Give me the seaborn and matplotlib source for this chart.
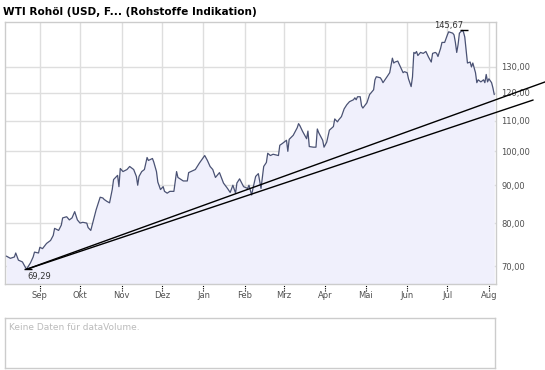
import numpy as np
import pandas as pd
import matplotlib
matplotlib.use("Agg")
import matplotlib.pyplot as plt
import seaborn as sns
from matplotlib.ticker import FixedLocator, FuncFormatter, NullLocator

# days since 2007-08-06 and closing price (USD)
start_date = "2007-08-06"
days = [1, 4, 7, 8, 10, 13, 15, 16, 19, 21, 22, 25, 26, 28, 31, 34, 36, 37, 40, 42,
        43, 46, 48, 50, 52, 54, 56, 58, 61, 62, 64, 66, 68, 71, 73, 74, 76, 78, 80, 81,
        84, 85, 86, 88, 91, 93, 96, 98, 99, 100, 102, 104, 106, 107, 110, 111, 113, 114, 116, 118,
        119, 121, 123, 126, 128, 129, 133, 136, 137, 142, 145, 149, 151, 153, 155, 157, 160, 163, 166, 168,
        170, 172, 173, 175, 178, 181, 182, 184, 185, 187, 189, 191, 193, 195, 196, 198, 200, 204, 205, 207,
        210, 211, 212, 215, 218, 219, 220, 222, 225, 226, 227, 230, 232, 233, 234, 237, 238, 240, 242, 245,
        246, 248, 249, 251, 253, 255, 257, 260, 261, 262, 263, 265, 266, 267, 270, 272, 275, 276, 277, 280,
        281, 282, 284, 285, 287, 289, 290, 291, 293, 295, 297, 298, 300, 301, 303, 304, 305, 306, 307, 308,
        310, 312, 314, 316, 318, 319, 321, 322, 323, 325, 326, 328, 330, 331, 334, 335, 336, 337, 338, 339,
        341, 342, 343, 344, 345, 347, 348, 349, 351, 352, 353, 355, 357, 358, 359, 360, 361, 363, 364, 365]
prices = [72.2, 71.7, 72.0, 72.9, 71.3, 70.9, 69.8, 69.29, 70.7, 72.0, 73.1, 72.9, 74.2, 73.9, 75.1, 75.8, 77.0, 78.7, 78.2, 79.5,
          81.3, 81.6, 80.8, 81.3, 82.9, 80.8, 80.0, 80.2, 80.0, 78.9, 78.2, 80.8, 83.4, 86.7, 86.5, 86.1, 85.6, 85.2, 88.8, 91.6,
          92.8, 89.6, 94.8, 93.9, 94.5, 95.4, 94.5, 92.5, 90.0, 92.5, 93.9, 94.5, 98.1, 97.2, 97.8, 96.7, 93.9, 90.9, 88.8, 89.6,
          88.3, 87.8, 88.3, 88.3, 93.9, 92.2, 91.2, 91.2, 93.6, 94.5, 96.4, 98.7, 97.2, 95.4, 94.5, 92.2, 93.6, 90.6, 89.1, 88.0,
          90.0, 87.8, 90.6, 91.8, 89.6, 89.1, 90.0, 87.3, 89.1, 92.5, 93.3, 89.1, 95.4, 96.6, 99.4, 98.7, 99.1, 98.7, 101.9, 102.5,
          103.5, 100.0, 103.8, 105.1, 107.6, 109.0, 108.3, 106.4, 104.0, 106.5, 101.5, 101.3, 101.3, 107.2, 106.0, 103.5, 101.3, 102.9, 106.8, 108.0,
          110.6, 109.6, 110.3, 111.4, 114.1, 115.6, 116.7, 117.4, 118.1, 117.4, 118.5, 118.5, 115.2, 114.4, 116.3, 119.3, 121.1, 124.9, 126.1, 125.7,
          124.9, 123.8, 125.3, 126.1, 127.7, 133.6, 131.6, 132.0, 132.4, 130.0, 127.7, 128.1, 127.7, 125.3, 122.3, 126.0, 136.0, 135.6, 136.4, 134.7,
          136.0, 135.6, 136.4, 134.0, 132.0, 135.6, 136.0, 135.6, 134.3, 137.8, 140.3, 140.3, 143.6, 145.0, 144.4, 143.6, 140.3, 136.0, 139.3, 144.4,
          145.67, 145.0, 142.7, 136.9, 131.6, 132.0, 130.0, 131.6, 127.7, 123.8, 124.9, 124.1, 124.9, 123.8, 127.0, 124.1, 125.3, 123.8, 121.8, 119.3]

# two support lines from the August low
trend_start = (16, 69.29)
trend_ends = [(403, 124.1), (394, 117.3)]

y_ticks = [70, 80, 90, 100, 110, 120, 130]
month_starts = pd.date_range("2007-09-01", "2008-08-01", freq="MS")
month_labels = ["Sep", "Okt", "Nov", "Dez", "Jan", "Feb", "Mrz", "Apr", "Mai", "Jun", "Jul", "Aug"]

t0 = pd.Timestamp(start_date)
df = pd.DataFrame({"date": t0 + pd.to_timedelta(days, unit="D"), "price": prices})

sns.set_style("white")
plt.rcParams["font.family"] = ["DejaVu Sans"]

W, H = 545, 370
fig = plt.figure(figsize=(W / 100, H / 100), dpi=100)
ax = fig.add_axes([5 / W, 1 - 284 / H, 491 / W, 262 / H])

grid_c = "#dedede"
frame_c = "#cccccc"
line_c = "#4a5274"
fill_c = "#f0f0fc"
text_c = "#505050"

ax.fill_between(df["date"], df["price"], 50, color=fill_c, lw=0, zorder=1)
sns.lineplot(data=df, x="date", y="price", ax=ax, color=line_c, lw=0.9, zorder=3)

ax.set_yscale("log")
ax.set_ylim(66.2, 149.5)
ax.set_xlim(t0, t0 + pd.Timedelta(days=366.3))

ax.yaxis.set_major_locator(FixedLocator(y_ticks))
ax.yaxis.set_minor_locator(NullLocator())
ax.yaxis.set_major_formatter(FuncFormatter(lambda v, p: f"{v:.2f}".replace(".", ",")))
ax.yaxis.tick_right()
ax.tick_params(axis="y", length=0, pad=4, labelsize=6, labelcolor=text_c)

ax.set_xticks(month_starts)
ax.set_xticklabels(month_labels)
ax.tick_params(axis="x", length=0, pad=5, labelsize=6, labelcolor=text_c)
ax.set_xlabel("")
ax.set_ylabel("")

ax.grid(True, color=grid_c, lw=1, zorder=0)
ax.set_axisbelow(True)
for s in ax.spines.values():
    s.set_color(frame_c)
    s.set_linewidth(1)

# dotted month ticks under the axis
ax.vlines(month_starts, -0.028, 0, transform=ax.get_xaxis_transform(),
          colors="black", lw=0.8, linestyles=(0, (1, 1)), clip_on=False)

# trend lines
d_start = t0 + pd.Timedelta(days=trend_start[0])
for d_end, p_end in trend_ends:
    ax.plot([d_start, t0 + pd.Timedelta(days=d_end)], [trend_start[1], p_end],
            color="black", lw=1, clip_on=False, zorder=4)

# min / max markers
i_min = int(np.argmin(prices))
i_max = int(np.argmax(prices))
for i, label, off, ha in [(i_min, prices[i_min], (1, -5), "left"),
                          (i_max, prices[i_max], (0.5, 3.6), "right")]:
    d = df["date"][i]
    ax.hlines(prices[i], d - pd.Timedelta(days=1.5), d + pd.Timedelta(days=4.5),
              colors="black", lw=1, zorder=4)
    ax.annotate(f"{label:.2f}".replace(".", ","), (d, prices[i]), xytext=off,
                textcoords="offset points", ha=ha, va="center",
                fontsize=6, color="#333333")

fig.text(3 / W, 1 - 12 / H, "WTI Rohöl (USD, F... (Rohstoffe Indikation)",
         fontsize=7.6, fontweight="bold", color="black", va="center", ha="left")

# empty volume panel
vax = fig.add_axes([5 / W, 1 - 368 / H, 490 / W, 50 / H])
vax.set_xticks([])
vax.set_yticks([])
for s in vax.spines.values():
    s.set_color(frame_c)
    s.set_linewidth(1)
vax.text(0.008, 0.82, "Keine Daten für dataVolume.", transform=vax.transAxes,
         fontsize=6.5, color="#bbbbbb", va="center", ha="left")

fig.savefig("out.png", dpi=100)
